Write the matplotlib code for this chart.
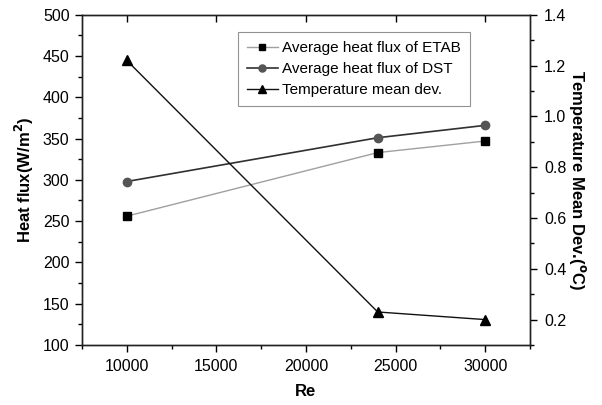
import matplotlib
matplotlib.use("Agg")
import matplotlib.pyplot as plt
from matplotlib.ticker import MultipleLocator

plt.rcParams['font.family'] = ['Liberation Sans', 'DejaVu Sans']

re_vals = [10000, 24000, 30000]
flux_etab = [256, 333, 347]
flux_dst = [298, 351, 366]
temp_dev = [1.22, 0.23, 0.20]

fig = plt.figure(figsize=(6.02, 4.05), dpi=100)
ax = fig.add_axes([82/602, 60/405, 448/602, 330.3/405])
ax2 = ax.twinx()

l1, = ax.plot(re_vals, flux_etab, color='#a0a0a0', lw=1.0, marker='s', ms=5.5,
              mfc='black', mec='black', label='Average heat flux of ETAB')
l2, = ax.plot(re_vals, flux_dst, color='#303030', lw=1.2, marker='o', ms=6,
              mfc='#555555', mec='#555555', label='Average heat flux of DST')
l3, = ax2.plot(re_vals, temp_dev, color='#111111', lw=1.0, marker='^', ms=6.5,
               mfc='black', mec='black', label='Temperature mean dev.')

ax.set_xlim(7500, 32500)
ax.set_ylim(100, 500)
ax2.set_ylim(0.1, 1.4)

ax.xaxis.set_major_locator(MultipleLocator(5000))
ax.xaxis.set_minor_locator(MultipleLocator(2500))
ax.yaxis.set_major_locator(MultipleLocator(50))
ax.yaxis.set_minor_locator(MultipleLocator(25))
ax2.yaxis.set_minor_locator(MultipleLocator(0.1))
ax2.set_yticks([0.2, 0.4, 0.6, 0.8, 1.0, 1.2, 1.4])
ax2.set_yticklabels(['0.2', '0.4', '0.6', '0.8', '1.0', '1.2', '1.4'])

ls = 11.5
ax.tick_params(axis='x', which='major', direction='out', length=5, width=1, labelsize=ls, top=True, pad=5)
ax.tick_params(axis='x', which='minor', direction='out', length=3, width=1, top=False)
ax.tick_params(axis='y', which='major', direction='out', length=5, width=1, labelsize=ls, pad=4)
ax.tick_params(axis='y', which='minor', direction='out', length=3, width=1)
ax2.tick_params(axis='y', which='major', direction='out', length=5, width=1, labelsize=ls, pad=5)
ax2.tick_params(axis='y', which='minor', direction='out', length=3, width=1)
for t in ax.xaxis.get_major_ticks():
    t.tick2line.set_marker(3)
    t.tick2line.set_markersize(5)

for a in (ax, ax2):
    for s in a.spines.values():
        s.set_linewidth(1.0)
        s.set_color('#222222')

ax.set_xlabel('Re', fontsize=12, fontweight='bold', labelpad=7)
ax.set_ylabel('Heat flux(W/m$^\\mathbf{2}$)', fontsize=12, fontweight='bold', labelpad=5)
ax2.set_ylabel('Temperature Mean Dev.($^\\mathbf{o}$C)', fontsize=12, fontweight='bold',
               rotation=270, labelpad=16)

leg = ax.legend(handles=[l1, l2, l3], loc='upper left',
                bbox_to_anchor=((238-82)/448, (345-32)/330.3),
                fontsize=11, frameon=True, fancybox=False, edgecolor='#777777',
                handlelength=2.0, handletextpad=0.3, borderpad=0.6, labelspacing=0.45,
                borderaxespad=0, markerscale=0.85)
leg.get_frame().set_linewidth(0.8)

fig.savefig('out.png', dpi=100)
